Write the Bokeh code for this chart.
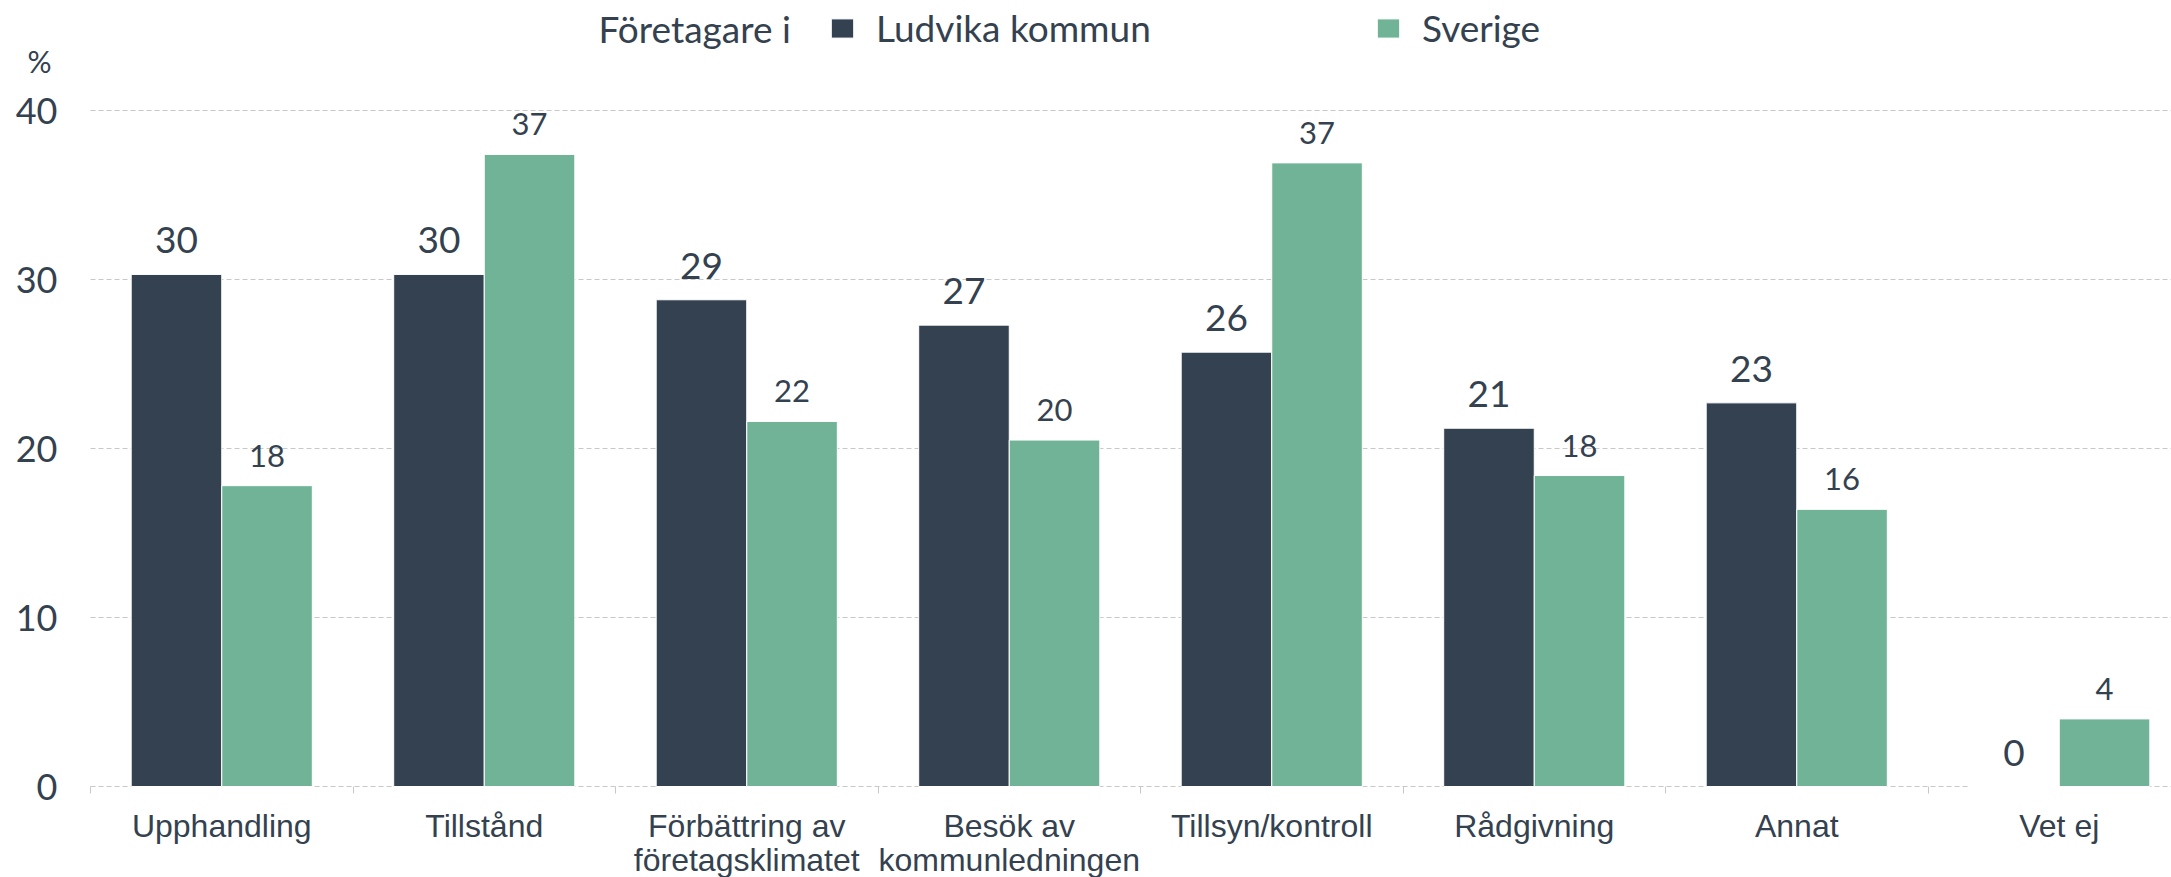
from bokeh.plotting import figure
from bokeh.models import (ColumnDataSource, Range1d, FixedTicker, Legend, LegendItem, Label)
from bokeh.core.properties import value
from bokeh.embed import file_html
from bokeh.resources import INLINE

categories = ["Upphandling", "Tillstånd", "Förbättring av\nföretagsklimatet", "Besök av\nkommunledningen",
              "Tillsyn/kontroll", "Rådgivning", "Annat", "Vet ej"]
ludvika = [30.3, 30.3, 28.8, 27.3, 25.7, 21.2, 22.7, 0.0]
sverige = [17.8, 37.4, 21.6, 20.5, 36.9, 18.4, 16.4, 4.0]
series_names = ["Ludvika kommun", "Sverige"]
y_ticks = [0, 10, 20, 30, 40]

DARK = "#344150"
GREEN = "#71b397"
TEXT = "#34414f"
GRID = "#c8c8c8"

n = len(categories)
centers = [i + 0.5 for i in range(n)]
bw = 0.345

# layout (pixels): plot area left edge at x=90, zero line at y=786
PX_X = 262.5   # pixels per category band
PX_Y = 16.9    # pixels per percent
W, H = 2171, 877
x_start, x_end = -90 / PX_X, (W - 90) / PX_X
y_start, y_end = -(H - 786) / PX_Y, 786 / PX_Y

src_l = ColumnDataSource(dict(x=[c - bw / 2 for c in centers], top=ludvika,
                              lbl=[f"{v:.0f}" for v in ludvika]))
src_s = ColumnDataSource(dict(x=[c + bw / 2 for c in centers], top=sverige,
                              lbl=[f"{v:.0f}" for v in sverige]))

p = figure(width=W, height=H, output_backend="svg", toolbar_location=None,
           x_range=Range1d(x_start, x_end), y_range=Range1d(y_start, y_end),
           min_border_left=0, min_border_right=0, min_border_top=0, min_border_bottom=0)
p.outline_line_color = None
p.background_fill_color = "white"
p.xgrid.visible = False
p.ygrid.visible = False

# dashed horizontal grid lines starting at the value axis
p.segment(x0=[0] * len(y_ticks), x1=[x_end] * len(y_ticks), y0=y_ticks, y1=y_ticks,
          line_color=GRID, line_width=1, line_dash="5 3")

r1 = p.vbar(x="x", top="top", width=bw, source=src_l, fill_color=DARK, line_color="white", line_width=1)
r2 = p.vbar(x="x", top="top", width=bw, source=src_s, fill_color=GREEN, line_color="white", line_width=1)

p.text(x="x", y="top", text="lbl", source=src_l, text_align="center", text_baseline="middle",
       y_offset=-34, text_font=value("Lato"), text_font_size="37px", text_color=TEXT)
p.text(x="x", y="top", text="lbl", source=src_s, text_align="center", text_baseline="middle",
       y_offset=-30, text_font=value("Lato"), text_font_size="31px", text_color=TEXT)

# y axis, drawn at x = 0
p.yaxis.fixed_location = 0
p.yaxis.ticker = FixedTicker(ticks=y_ticks)
p.yaxis.axis_line_color = None
p.yaxis.major_tick_line_color = None
p.yaxis.major_tick_out = 0
p.yaxis.major_tick_in = 0
p.yaxis.minor_tick_line_color = None
p.yaxis.major_label_standoff = 33
p.yaxis.major_label_text_font = "Lato"
p.yaxis.major_label_text_font_size = "36px"
p.yaxis.major_label_text_color = TEXT

# x axis, drawn at y = 0
p.xaxis.fixed_location = 0
p.xaxis.ticker = FixedTicker(ticks=centers, minor_ticks=list(range(n + 1)))
p.xaxis.major_label_overrides = {c: lab for c, lab in zip(centers, categories)}
p.xaxis.major_tick_line_color = None
p.xaxis.major_tick_out = 0
p.xaxis.major_tick_in = 0
p.xaxis.minor_tick_line_color = GRID
p.xaxis.minor_tick_out = 7
p.xaxis.minor_tick_in = 0
p.xaxis.axis_line_color = None
p.xaxis.major_label_standoff = 14
p.xaxis.major_label_text_font = "Liberation Sans"
p.xaxis.major_label_text_font_size = "32px"
p.xaxis.major_label_text_color = TEXT
p.xaxis.major_label_text_line_height = 0.95

# legend
legend = Legend(items=[LegendItem(label=series_names[0], renderers=[r1]),
                       LegendItem(label=series_names[1], renderers=[r2])],
                orientation="horizontal", location=(828, 827),
                padding=0, margin=0, spacing=0, border_line_color=None, background_fill_alpha=0,
                glyph_width=28, glyph_height=24, label_standoff=20, label_width=498, label_height=44,
                label_text_font="Lato", label_text_font_size="37px", label_text_color=TEXT,
                label_text_baseline="middle")
p.add_layout(legend, "center")

p.add_layout(Label(x=(598 - 90) / PX_X, y=(786 - 28) / PX_Y, text="Företagare i",
                   text_font="Lato", text_font_size="37px", text_color=TEXT, text_baseline="middle"))
p.add_layout(Label(x=(27 - 90) / PX_X, y=(786 - 60) / PX_Y, text="%",
                   text_font="Lato", text_font_size="30px", text_color=TEXT, text_baseline="middle"))

open("out.html", "w").write(file_html(p, INLINE))
